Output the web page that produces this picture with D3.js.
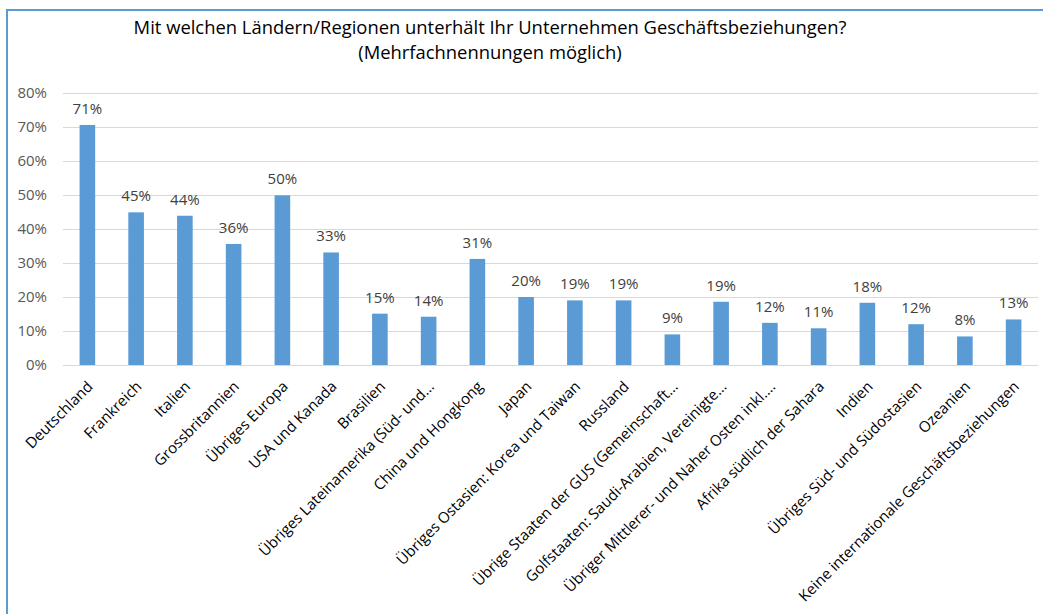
<!DOCTYPE html>
<html>
<head>
<meta charset="utf-8">
<script src="https://cdn.jsdelivr.net/npm/d3@7"></script>
<style>
  body { margin: 0; background: #fff; }
  svg text { font-family: "Open Sans", sans-serif; }
</style>
</head>
<body>
<div id="chart"></div>
<script>
// Data
var categories = [
  "Deutschland", "Frankreich", "Italien", "Grossbritannien", "Übriges Europa",
  "USA und Kanada", "Brasilien", "Übriges Lateinamerika (Süd- und…",
  "China und Hongkong", "Japan", "Übriges Ostasien: Korea und Taiwan",
  "Russland", "Übrige Staaten der GUS (Gemeinschaft…",
  "Golfstaaten: Saudi-Arabien, Vereinigte…",
  "Übriger Mittlerer- und Naher Osten inkl.…", "Afrika südlich der Sahara",
  "Indien", "Übriges Süd- und Südostasien", "Ozeanien",
  "Keine internationale Geschäftsbeziehungen"
];
var values = [0.706, 0.449, 0.439, 0.356, 0.499, 0.331, 0.151, 0.142, 0.312, 0.200,
  0.190, 0.190, 0.090, 0.186, 0.124, 0.108, 0.183, 0.120, 0.084, 0.134];
var yTicks = [0, 0.1, 0.2, 0.3, 0.4, 0.5, 0.6, 0.7, 0.8];
var titleLines = ["Mit welchen Ländern/Regionen unterhält Ihr Unternehmen Geschäftsbeziehungen?",
  "(Mehrfachnennungen möglich)"];

var width = 1043,
	height = 614,
	svg = d3.select("#chart")
	.append("svg")
	.attr("width", width)
	.attr("height", height);

// chart frame (runs off the right/bottom like the screenshot)
svg.append("rect")
	.attr("x", 7).attr("y", 10)
	.attr("width", 1200).attr("height", 800)
	.attr("fill", "#fff")
	.attr("stroke", "#5b9bd5")
	.attr("stroke-width", 2);

var x = d3.scaleBand()
	.domain(categories)
	.range([63, 1038])
	.paddingInner(0.68)
	.paddingOuter(0.34);

var y = d3.scaleLinear()
	.domain([0, 0.8])
	.range([365, 93]);

// gridlines
svg.append("g")
	.selectAll("line")
	.data(yTicks)
	.enter().append("line")
	.attr("x1", 63).attr("x2", 1038)
	.attr("y1", function(d) { return y(d) + 0.5; })
	.attr("y2", function(d) { return y(d) + 0.5; })
	.attr("stroke", "#d9d9d9")
	.attr("stroke-width", 1);

// y axis labels
var yAxis = d3.axisLeft(y)
	.tickValues(yTicks)
	.tickFormat(d3.format(".0%"))
	.tickSize(0)
	.tickPadding(0);
var ya = svg.append("g")
	.attr("transform", "translate(47,0)")
	.call(yAxis);
ya.select(".domain").remove();
ya.selectAll("text")
	.attr("fill", "#595959")
	.style("font-size", "15px");

// bars
svg.append("g")
	.selectAll("rect")
	.data(values)
	.enter().append("rect")
	.attr("x", function(d, i) { return x(categories[i]); })
	.attr("y", function(d) { return y(d); })
	.attr("width", x.bandwidth())
	.attr("height", function(d) { return y(0) - y(d); })
	.attr("fill", "#5b9bd5");

// value labels
svg.append("g")
	.selectAll("text")
	.data(values)
	.enter().append("text")
	.attr("x", function(d, i) { return x(categories[i]) + x.bandwidth() / 2; })
	.attr("y", function(d) { return y(d) - 11; })
	.attr("text-anchor", "middle")
	.attr("fill", "#404040")
	.style("font-size", "15px")
	.text(d3.format(".0%"));

// category labels
svg.append("g")
	.selectAll("text")
	.data(categories)
	.enter().append("text")
	.attr("transform", function(d) {
		return "translate(" + (x(d) + x.bandwidth() / 2 - 1) + ",380) rotate(-45)";
	})
	.attr("text-anchor", "end")
	.attr("dy", "0.7em")
	.attr("fill", "#000")
	.style("font-size", "15px")
	.text(function(d) { return d; });

// title
svg.append("g")
	.selectAll("text")
	.data(titleLines)
	.enter().append("text")
	.attr("x", 490)
	.attr("y", function(d, i) { return 34 + i * 25; })
	.attr("text-anchor", "middle")
	.attr("fill", "#000")
	.style("font-size", "18.4px")
	.text(function(d) { return d; });
</script>
</body>
</html>
